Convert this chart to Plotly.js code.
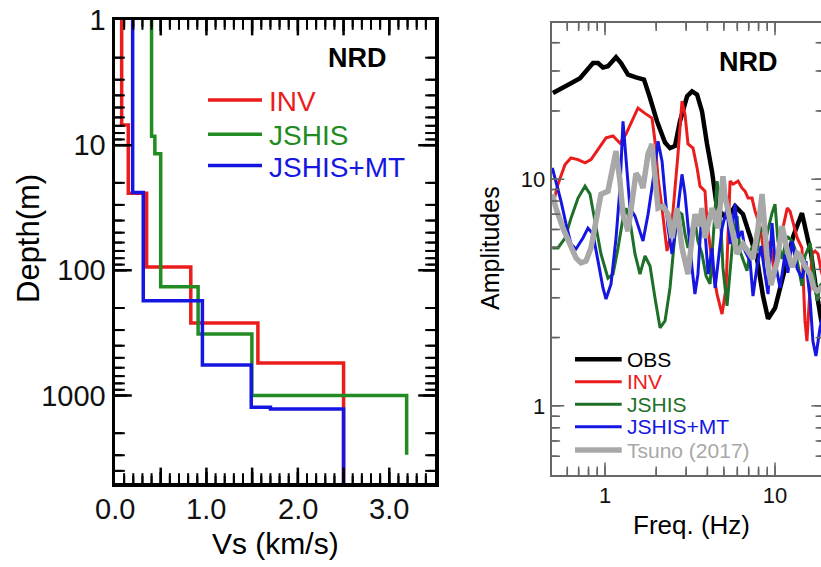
<!DOCTYPE html>
<html>
<head>
<meta charset="utf-8">
<script src="https://cdn.plot.ly/plotly-3.0.1.min.js"></script>
<style>
html,body{margin:0;padding:0;overflow:hidden;background:#fff;}
#chart{width:824px;height:567px;}
</style>
</head>
<body>
<div id="chart"></div>
<script>
// ---------- Left panel: Vs profiles (layer top depth in m, Vs in km/s) ----------
const invTop   = [1, 6.9, 24.2, 94, 264, 550];
const invVs    = [0.073, 0.145, 0.346, 0.829, 1.563, 2.50];
const invBottom = 5000;
const jshisTop = [1, 8.5, 11.7, 135, 322, 1000];
const jshisVs  = [0.40, 0.436, 0.50, 0.909, 1.497, 3.19];
const jshisBottom = 2980;
const mtTop    = [1, 23.9, 175, 570, 1240, 1280];
const mtVs     = [0.193, 0.309, 0.956, 1.49, 1.70, 2.50];
const mtBottom = 5000;
const vsTickVals = [0, 0.5, 1, 1.5, 2, 2.5, 3, 3.5];
const vsLabelVals = [0, 1, 2, 3];
const vsLabelText = ['0.0', '1.0', '2.0', '3.0'];
const depthTickVals = [1, 10, 100, 1000];
const depthTickText = ['1', '10', '100', '1000'];

// ---------- Right panel: amplitude spectra ----------
const obsF = [0.494,0.551,0.631,0.713,0.773,0.850,0.910,0.973,1.041,1.161,1.242,1.366,1.521,1.696,1.840,2.022,2.254,2.411,2.58,2.76,3.04,3.25,3.48,3.72,3.98,4.26,4.50,4.75,5.08,5.44,5.82,6.48,7.13,7.84,8.50,9.10,10.0,10.8,11.8,12.8,14.4,15.2,16.3,17.4,18.7,19.7];
const obsA = [24.0,25.2,26.5,27.9,29.9,32.5,32.5,31.1,31.5,34.5,32.5,28.9,28.1,27.5,22.8,18.0,14.5,13.7,14.0,18.0,23.2,24.4,23.6,19.9,14.3,10.8,8.0,7.2,6.8,7.0,7.6,7.0,5.6,4.45,3.05,2.42,2.70,3.38,4.27,5.6,7.08,6.0,4.68,3.31,2.37,2.14];

const invF = [0.494,0.529,0.582,0.631,0.694,0.763,0.827,0.910,1.014,1.115,1.225,1.329,1.461,1.563,1.719,1.890,1.968,2.05,2.165,2.254,2.316,2.411,2.512,2.687,2.837,2.955,3.077,3.294,3.48,3.62,3.874,3.98,4.148,4.316,4.56,4.75,4.88,5.15,5.44,5.66,6.06,6.40,6.66,6.94,7.32,7.63,8.16,8.73,9.35,10.0,10.7,11.8,12.25,13.5,14.4,15.0,15.4,16.5,17.2,17.9,18.7,19.4];
const invA = [7.76,9.50,11.6,12.4,12.2,11.8,12.2,13.5,15.2,15.5,14.4,15.8,18.6,20.6,19.5,18.6,14.7,10.1,7.45,5.72,4.82,5.50,7.22,12.9,22.1,19.3,14.3,13.7,11.2,9.31,8.85,6.53,5.17,3.94,3.11,2.70,2.54,3.31,9.80,9.50,9.80,9.12,8.85,8.25,8.25,7.22,6.21,4.35,5.33,3.74,5.33,7.45,7.22,5.50,4.97,2.37,1.93,4.68,4.82,4.68,3.94,3.56];

const jshisF = [0.49,0.529,0.582,0.631,0.694,0.763,0.816,0.873,0.947,1.041,1.115,1.193,1.276,1.329,1.403,1.501,1.606,1.719,1.840,1.968,2.107,2.254,2.411,2.58,2.687,2.837,2.955,3.077,3.25,3.38,3.52,3.72,3.93,4.148,4.316,4.56,4.75,4.94,5.22,5.44,5.66,5.98,6.22,6.84,7.13,7.42,7.84,8.16,8.97,9.60,10.0,10.4,11.0,11.8,12.6,13.1,14.0,14.4,15.0,16.1,16.7,17.7,18.4,19.4];
const jshisA = [4.97,4.97,5.50,6.73,8.25,9.31,8.59,6.53,4.68,3.66,3.81,4.97,6.73,7.45,6.53,4.68,3.81,4.58,4.14,2.99,2.21,2.37,3.31,5.72,7.22,7.0,5.72,4.97,6.08,6.53,5.33,4.68,3.74,3.45,5.33,9.80,7.45,4.06,2.76,3.94,5.50,6.87,4.82,3.94,4.82,5.07,4.82,6.08,5.72,7.08,7.76,5.33,4.45,5.6,5.33,4.92,3.74,3.38,4.58,5.22,4.14,2.90,3.38,3.56];

const mtF = [0.49,0.508,0.551,0.590,0.631,0.675,0.742,0.794,0.850,0.910,0.973,1.014,1.085,1.161,1.225,1.276,1.329,1.403,1.501,1.673,1.791,1.942,2.05,2.165,2.254,2.349,2.478,2.58,2.687,2.837,2.955,3.077,3.25,3.38,3.52,3.72,3.874,4.04,4.26,4.44,4.62,4.88,5.22,5.44,5.82,6.06,6.40,6.66,7.13,7.42,7.84,8.27,8.73,9.10,9.60,10.0,10.7,11.45,11.9,12.6,13.5,14.4,15.2,16.1,16.7,17.4,18.4,19.4];
const mtA = [11.2,10.1,8.0,6.34,5.17,4.92,5.50,6.08,5.72,4.35,3.31,2.96,3.45,5.50,9.12,18.0,12.0,7.45,6.87,5.33,7.0,10.5,14.7,12.0,8.59,6.08,4.68,5.72,7.45,10.5,8.59,6.08,4.06,3.11,3.81,7.45,5.90,3.81,4.97,3.31,4.35,6.08,7.45,5.17,7.76,5.50,5.90,4.82,4.35,3.05,4.14,5.07,3.81,3.11,6.40,4.35,3.31,4.68,3.86,5.33,4.02,3.66,4.35,2.90,1.93,1.66,2.21,2.62];

const tsunoF = [0.49,0.515,0.566,0.622,0.675,0.722,0.773,0.827,0.885,0.947,1.041,1.115,1.161,1.225,1.276,1.366,1.422,1.521,1.606,1.673,1.791,1.890,1.968,2.05,2.194,2.349,2.478,2.653,2.837,2.955,3.077,3.25,3.38,3.57,3.72,3.874,4.04,4.26,4.62,4.94,5.08,5.51,5.98,6.48,6.94,7.42,7.94,8.39,8.97,9.47,10.3,11.0,11.9,12.6,13.5,14.0,15.0,16.1,16.9,17.7,18.7,19.4];
const tsunoA = [8.59,7.45,6.08,5.17,4.49,4.27,4.35,4.97,6.73,8.59,8.85,11.6,13.3,9.80,7.0,5.90,7.45,10.6,10.0,9.12,12.9,14.3,10.3,7.45,7.6,7.0,5.50,7.45,4.97,4.35,3.81,5.50,7.0,6.21,7.45,5.50,6.40,7.45,6.08,10.3,8.41,6.21,4.68,5.17,4.82,4.45,6.08,8.59,4.58,3.41,4.35,6.21,4.72,4.09,4.72,4.62,4.14,3.81,3.31,3.21,3.31,3.38];

const freqTickVals = [1, 10];
const freqTickText = ['1', '10'];
const ampTickVals = [1, 10];
const ampTickText = ['1', '10'];

const profileNames = ['INV', 'JSHIS', 'JSHIS+MT'];
const spectraNames = ['OBS', 'INV', 'JSHIS', 'JSHIS+MT', 'Tsuno (2017)'];

// ---------- figure geometry ----------
const W = 824, H = 567;
const PX = p => p / W;
const PY = p => 1 - p / H;
const leftDomX = [115, 435], leftDomY = [483, 20];
const rightDomX = [551.7, 824], rightDomY = [475, 22.7];

// ---------- axis ranges ----------
const vsRange = [0, 3.5];
const depthRangeLog = [Math.log10(5000), 0];
const freqRangeLog = [-0.3135, 1.288];
const ampRangeLog = [-0.305, 1.69];

// ---------- styles ----------
const FONT = 'Liberation Sans, Arial, Helvetica, sans-serif';
const RED = 'rgb(235,28,28)';
const GREEN_L = 'rgb(34,140,34)';
const GREEN_R = 'rgb(30,112,40)';
const BLUE = 'rgb(22,22,225)';
const GRAY = 'rgb(168,168,168)';
const BLACK = 'rgb(0,0,0)';
const profileColors = [RED, GREEN_L, BLUE];
const spectraColors = [BLACK, RED, GREEN_R, BLUE, GRAY];
const spectraWidths = [4.5, 3, 3, 3, 5.5];

function profile(top, vs, bottom) {
  return { x: vs.concat([vs[vs.length - 1]]), y: top.concat([bottom]) };
}
const profs = [profile(invTop, invVs, invBottom), profile(jshisTop, jshisVs, jshisBottom), profile(mtTop, mtVs, mtBottom)];

const traces = [];
profs.forEach((p, i) => {
  traces.push({ x: p.x, y: p.y, xaxis: 'x', yaxis: 'y', type: 'scatter', mode: 'lines',
    line: { shape: 'vh', color: profileColors[i], width: 3.5 }, name: profileNames[i], showlegend: false, hoverinfo: 'skip' });
});
const spectra = [[obsF, obsA], [invF, invA], [jshisF, jshisA], [mtF, mtA], [tsunoF, tsunoA]];
spectra.forEach((s, i) => {
  traces.push({ x: s[0], y: s[1], xaxis: 'x2', yaxis: 'y2', type: 'scatter', mode: 'lines',
    line: { color: spectraColors[i], width: spectraWidths[i] }, name: spectraNames[i], showlegend: false, hoverinfo: 'skip' });
});

const annotations = [];
const shapes = [];

// ---------- tick marks (inside, all four sides) ----------
const vsMinor = [];
for (let k = 1; k < 35; k++) { if (k % 5 !== 0) vsMinor.push(k / 10); }
function logMinor(lo, hi) {
  const out = [];
  for (let d = lo; d < hi; d++) for (let m = 2; m <= 9; m++) out.push(m * Math.pow(10, d));
  return out;
}
const depthMinor = logMinor(0, 4).filter(v => v < 5000);
const freqMinor = logMinor(-1, 2).filter(v => v > 0.5 && v < 20.5);
const ampMinor = logMinor(-1, 2).filter(v => v > 0.5 && v < 49);
const LAX = '#000';
const RAX = '#666';

// (a) clipped line markers sitting on the plot edges, on each axis' own scale
function tickTrace(xa, ya, xs, ys, symbol, len, width, color) {
  traces.push({ type: 'scatter', mode: 'markers', x: xs, y: ys, xaxis: xa, yaxis: ya, cliponaxis: true,
    marker: { symbol: symbol, size: 2 * len, color: color, line: { width: width, color: color } },
    showlegend: false, hoverinfo: 'skip' });
}
function xTickMarks(xa, ya, vals, yBottom, yTop, len, width, color) {
  tickTrace(xa, ya, vals.concat(vals), vals.map(() => yBottom).concat(vals.map(() => yTop)), 'line-ns', len, width, color);
}
function yTickMarks(xa, ya, vals, xLeft, xRight, len, width, color) {
  tickTrace(xa, ya, vals.map(() => xLeft).concat(vals.map(() => xRight)), vals.concat(vals), 'line-ew', len, width, color);
}
const depthBottom = Math.pow(10, depthRangeLog[0]), depthTopEdge = Math.pow(10, depthRangeLog[1]);
const fLeft = Math.pow(10, freqRangeLog[0]), fRight = Math.pow(10, freqRangeLog[1]);
const aBottom = Math.pow(10, ampRangeLog[0]), aTop = Math.pow(10, ampRangeLog[1]);
xTickMarks('x', 'y', vsTickVals.slice(1, -1), depthBottom, depthTopEdge, 11, 2.5, LAX);
xTickMarks('x', 'y', vsMinor, depthBottom, depthTopEdge, 7, 2, LAX);
yTickMarks('x', 'y', depthTickVals.slice(1), vsRange[0], vsRange[1], 12, 2.5, LAX);
yTickMarks('x', 'y', depthMinor, vsRange[0], vsRange[1], 7, 2, LAX);
xTickMarks('x2', 'y2', freqTickVals, aBottom, aTop, 9, 1.5, RAX);
xTickMarks('x2', 'y2', freqMinor, aBottom, aTop, 6, 1.5, RAX);
yTickMarks('x2', 'y2', ampTickVals, fLeft, fRight, 9, 1.5, RAX);
yTickMarks('x2', 'y2', ampMinor, fLeft, fRight, 6, 1.5, RAX);

// (b) the same ticks as paper segments using the same axis mapping
function scale(pxEdges, range, isLog) {
  return v => {
    const u = isLog ? Math.log10(v) : v;
    return pxEdges[0] + (u - range[0]) / (range[1] - range[0]) * (pxEdges[1] - pxEdges[0]);
  };
}
const sLx = scale(leftDomX, vsRange, false), sLy = scale(leftDomY, depthRangeLog, true);
const sRx = scale(rightDomX, freqRangeLog, true), sRy = scale(rightDomY, ampRangeLog, true);
function seg(x0, y0, x1, y1, width, color) {
  shapes.push({ type: 'line', xref: 'paper', yref: 'paper', x0: PX(x0), y0: PY(y0), x1: PX(x1), y1: PY(y1),
    line: { color: color, width: width } });
}
function xTicks(sx, domY, vals, len, width, color) {
  vals.forEach(v => {
    const p = sx(v);
    seg(p, domY[0], p, domY[0] - len, width, color);
    seg(p, domY[1], p, domY[1] + len, width, color);
  });
}
function yTicks(sy, domX, vals, len, width, color) {
  vals.forEach(v => {
    const p = sy(v);
    seg(domX[0], p, domX[0] + len, p, width, color);
    seg(domX[1], p, domX[1] - len, p, width, color);
  });
}
xTicks(sLx, leftDomY, vsTickVals.slice(1, -1), 11, 2.5, LAX);
xTicks(sLx, leftDomY, vsMinor, 7, 2, LAX);
yTicks(sLy, leftDomX, depthTickVals.slice(1), 12, 2.5, LAX);
yTicks(sLy, leftDomX, depthMinor, 7, 2, LAX);
xTicks(sRx, rightDomY, freqTickVals, 9, 1.5, RAX);
xTicks(sRx, rightDomY, freqMinor, 6, 1.5, RAX);
yTicks(sRy, rightDomX, ampTickVals, 9, 1.5, RAX);
yTicks(sRy, rightDomX, ampMinor, 6, 1.5, RAX);

function txt(t, x, y, size, color, opts) {
  annotations.push(Object.assign({ text: t, x: PX(x), y: PY(y), xref: 'paper', yref: 'paper', showarrow: false,
    xanchor: 'center', yanchor: 'middle', font: { family: FONT, size: size, color: color } }, opts || {}));
}
txt('<b>NRD</b>', 357.5, 58.5, 27, BLACK);
txt('<b>NRD</b>', 748.5, 62.5, 27, BLACK);
txt('Depth(m)', 28, 239, 31, BLACK, { textangle: -90 });
txt('Vs (km/s)', 275.5, 543, 30, BLACK);
txt('Amplitudes', 490, 248, 25, BLACK, { textangle: -90 });
txt('Freq. (Hz)', 691, 525, 26, BLACK);

vsLabelVals.forEach((v, i) => {
  annotations.push({ text: vsLabelText[i], x: v, xref: 'x', y: PY(508.5), yref: 'paper', showarrow: false,
    xanchor: 'center', yanchor: 'middle', font: { family: FONT, size: 29, color: '#111' } });
});

const leftLegY = [100, 134.3, 165.5];
profileNames.forEach((n, i) => {
  shapes.push({ type: 'line', xref: 'paper', yref: 'paper', x0: PX(208), x1: PX(262), y0: PY(leftLegY[i]), y1: PY(leftLegY[i]),
    line: { color: profileColors[i], width: 3.5 } });
  txt(n, 267, leftLegY[i] + 1.5, 28, profileColors[i], { xanchor: 'left' });
});
const rightLegY = [359.3, 381.7, 404.3, 426.7, 450];
spectraNames.forEach((n, i) => {
  shapes.push({ type: 'line', xref: 'paper', yref: 'paper', x0: PX(575), x1: PX(621.7), y0: PY(rightLegY[i]), y1: PY(rightLegY[i]),
    line: { color: spectraColors[i], width: spectraWidths[i] } });
  txt(n, 625, rightLegY[i], 21, spectraColors[i], { xanchor: 'left' });
});

const noGrid = { showgrid: false, zeroline: false, ticks: '' };
const layout = {
  width: W, height: H,
  margin: { l: 0, r: 0, t: 0, b: 0 },
  paper_bgcolor: '#fff', plot_bgcolor: '#fff',
  showlegend: false,
  font: { family: FONT, color: '#111' },
  xaxis: Object.assign({
    domain: [PX(leftDomX[0]), PX(leftDomX[1])], anchor: 'y', range: vsRange, type: 'linear',
    tickmode: 'array', tickvals: vsLabelVals, showticklabels: false,
    showline: true, linewidth: 3.5, linecolor: LAX, mirror: true
  }, noGrid),
  yaxis: Object.assign({
    domain: [PY(leftDomY[0]), PY(leftDomY[1])], anchor: 'x', type: 'log', range: depthRangeLog,
    tickmode: 'array', tickvals: depthTickVals, ticktext: depthTickText,
    showline: true, linewidth: 3.5, linecolor: LAX, mirror: true,
    tickfont: { family: FONT, size: 29, color: '#111' }
  }, noGrid),
  xaxis2: Object.assign({
    domain: [PX(rightDomX[0]), 1], anchor: 'y2', type: 'log', range: freqRangeLog,
    tickmode: 'array', tickvals: freqTickVals, ticktext: freqTickText,
    showline: true, linewidth: 2, linecolor: RAX, mirror: true,
    tickfont: { family: FONT, size: 22, color: '#111' }
  }, noGrid),
  yaxis2: Object.assign({
    domain: [PY(rightDomY[0]), PY(rightDomY[1])], anchor: 'x2', type: 'log', range: ampRangeLog,
    tickmode: 'array', tickvals: ampTickVals, ticktext: ampTickText,
    showline: true, linewidth: 2, linecolor: RAX, mirror: true,
    tickfont: { family: FONT, size: 22, color: '#111' }
  }, noGrid),
  annotations: annotations,
  shapes: shapes
};

Plotly.newPlot('chart', traces, layout, { staticPlot: true, displayModeBar: false });
</script>
</body>
</html>
